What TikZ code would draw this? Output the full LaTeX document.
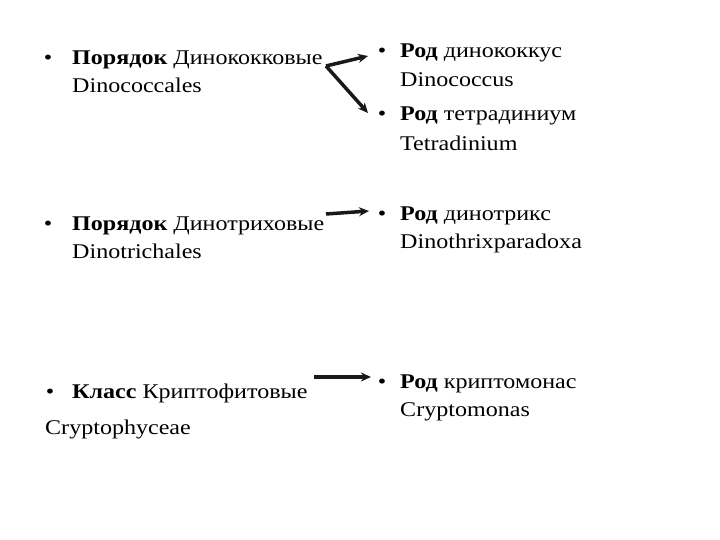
\documentclass[tikz,border=0pt]{standalone}
\usepackage{fontspec}
\setmainfont{Liberation Serif}[FakeStretch=1.15]
\usetikzlibrary{arrows.meta}
\tikzset{
  txt/.style={anchor=base west, inner sep=0pt, font=\fontsize{21}{28}\selectfont},
  blt/.style={anchor=base, inner sep=0pt, font=\fontsize{21}{28}\selectfont},
  arr/.style={line width=3.5bp, black!90, -{Stealth[length=10bp,width=9bp]}}
}
\begin{document}
\begin{tikzpicture}[x=1bp,y=-1bp]
\useasboundingbox (0,0) rectangle (720,540);
% left column
\node[blt] (b1) at (48,65) {•};
\node[txt] (l1a) at (72,65) {\textbf{Порядок} Динококковые};
\node[txt] (l1b) at (72,93) {Dinococcales};
\node[blt] (b2) at (48,231) {•};
\node[txt] (l2a) at (72,231) {\textbf{Порядок} Динотриховые};
\node[txt] (l2b) at (72,259) {Dinotrichales};
\node[blt] (b3) at (50,398) {•};
\node[txt] (l3a) at (72,398) {\textbf{Класс} Криптофитовые};
\node[txt] (l3b) at (45,434) {Cryptophyceae};
% right column
\node[blt] (rb1) at (382,58) {•};
\node[txt] (r1a) at (400,58) {\textbf{Род} динококкус};
\node[txt] (r1b) at (400,87) {Dinococcus};
\node[blt] (rb2) at (382,121) {•};
\node[txt] (r2a) at (400,121) {\textbf{Род} тетрадиниум};
\node[txt] (r2b) at (400,151) {Tetradinium};
\node[blt] (rb3) at (382,221) {•};
\node[txt] (r3a) at (400,221) {\textbf{Род} динотрикс};
\node[txt] (r3b) at (400,249) {Dinothrixparadoxa};
\node[blt] (rb4) at (382,388) {•};
\node[txt] (r4a) at (400,388) {\textbf{Род} криптомонас};
\node[txt] (r4b) at (400,416) {Cryptomonas};
% arrows
\coordinate (s1) at (326,66);
\coordinate (e1) at (368,56);
\coordinate (e2) at (368,113);
\coordinate (s3) at (326,214);
\coordinate (e3) at (369,211);
\coordinate (s4) at (314,377);
\coordinate (e4) at (371,377);
\draw[arr] (s1) -- (e1);
\draw[arr] (s1) -- (e2);
\draw[arr] (s3) -- (e3);
\draw[arr] (s4) -- (e4);
\end{tikzpicture}
\end{document}
